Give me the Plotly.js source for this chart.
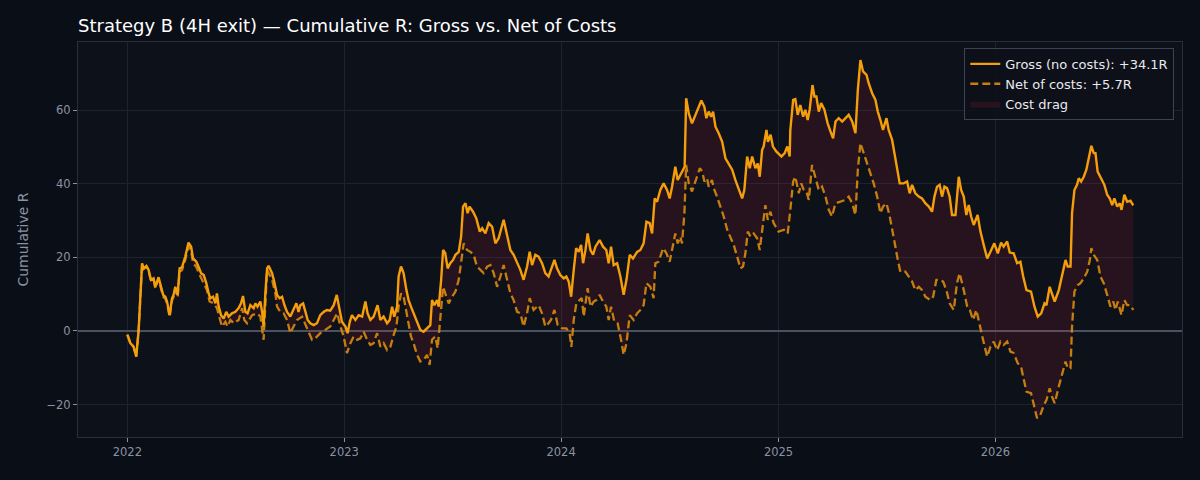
<!DOCTYPE html>
<html>
<head>
<meta charset="utf-8">
<script src="https://cdn.plot.ly/plotly-3.0.1.min.js"></script>
<style>
  html, body { margin: 0; padding: 0; background: #0a0e17; }
  #chart { width: 1200px; height: 480px; }
</style>
</head>
<body>
<div id="chart"></div>
<script>
'use strict'

// time in years since 2022-01-01, values in R
const grossT = [0.000,0.014,0.029,0.041,0.052,0.068,0.075,0.088,0.098,0.109,0.121,0.129,0.144,0.152,0.165,0.175,0.183,0.195,0.206,0.213,
  0.221,0.232,0.241,0.252,0.267,0.282,0.294,0.303,0.318,0.329,0.340,0.352,0.364,0.375,0.382,0.395,0.406,0.413,0.421,0.432,
  0.444,0.456,0.467,0.482,0.498,0.513,0.524,0.533,0.544,0.554,0.567,0.582,0.590,0.600,0.613,0.621,0.628,0.636,0.644,0.651,
  0.667,0.677,0.690,0.702,0.713,0.724,0.736,0.751,0.766,0.779,0.789,0.797,0.810,0.820,0.831,0.843,0.859,0.874,0.889,0.905,
  0.920,0.935,0.951,0.965,0.978,0.989,1.005,1.015,1.025,1.035,1.051,1.066,1.082,1.097,1.107,1.120,1.135,1.153,1.166,1.181,
  1.197,1.209,1.220,1.230,1.243,1.250,1.261,1.273,1.286,1.296,1.307,1.319,1.335,1.350,1.365,1.381,1.396,1.404,1.415,1.427,
  1.435,1.446,1.455,1.465,1.476,1.488,1.501,1.512,1.527,1.538,1.547,1.558,1.568,1.577,1.593,1.608,1.624,1.635,1.650,1.665,
  1.681,1.696,1.711,1.734,1.750,1.765,1.780,1.796,1.811,1.826,1.842,1.854,1.865,1.880,1.895,1.911,1.926,1.941,1.949,1.968,
  1.980,1.995,2.011,2.023,2.034,2.045,2.057,2.068,2.080,2.091,2.100,2.111,2.121,2.134,2.146,2.157,2.176,2.192,2.207,2.218,
  2.229,2.241,2.257,2.272,2.287,2.300,2.315,2.330,2.349,2.364,2.379,2.392,2.407,2.418,2.430,2.441,2.456,2.471,2.487,2.499,
  2.510,2.525,2.536,2.548,2.561,2.568,2.575,2.587,2.602,2.618,2.633,2.645,2.659,2.668,2.679,2.690,2.699,2.710,2.725,2.741,
  2.756,2.771,2.787,2.802,2.817,2.833,2.843,2.856,2.868,2.879,2.894,2.905,2.914,2.925,2.932,2.945,2.952,2.964,2.975,2.991,
  3.014,3.029,3.041,3.052,3.055,3.068,3.078,3.089,3.101,3.114,3.124,3.135,3.144,3.157,3.166,3.175,3.186,3.197,3.212,3.227,
  3.240,3.252,3.263,3.278,3.294,3.309,3.324,3.340,3.355,3.366,3.378,3.390,3.406,3.416,3.432,3.447,3.458,3.470,3.482,3.498,
  3.508,3.524,3.535,3.547,3.559,3.577,3.593,3.605,3.616,3.631,3.647,3.662,3.677,3.693,3.708,3.719,3.731,3.743,3.754,3.765,
  3.777,3.789,3.800,3.816,3.831,3.842,3.854,3.866,3.877,3.888,3.900,3.918,3.931,3.946,3.962,3.977,3.995,4.011,4.026,4.038,
  4.054,4.066,4.084,4.100,4.115,4.128,4.143,4.164,4.180,4.195,4.211,4.226,4.235,4.250,4.261,4.273,4.292,4.307,4.323,4.333,
  4.346,4.353,4.364,4.376,4.384,4.395,4.407,4.419,4.430,4.442,4.453,4.461,4.471,4.487,4.502,4.515,4.527,4.538,4.548,4.561,
  4.573,4.581,4.594,4.607,4.622,4.635];
const grossR = [-1.0,-3.3,-4.3,-7.0,0.0,18.4,17.0,17.7,16.6,13.9,14.3,12.0,14.6,13.0,9.8,9.3,8.0,4.3,8.9,9.8,
  12.0,9.8,17.0,17.3,20.2,24.0,22.9,19.7,18.8,17.3,15.7,15.2,13.0,10.2,8.9,9.3,7.5,10.2,6.6,4.3,
  3.4,5.2,3.9,4.8,5.2,6.2,7.5,9.5,5.2,4.8,7.0,6.2,7.5,6.6,8.0,5.2,1.2,10.2,17.0,17.7,
  15.7,13.4,9.8,8.9,9.3,7.0,5.2,3.9,5.7,7.5,5.2,7.0,7.5,5.2,3.0,2.1,1.6,2.1,4.3,5.2,
  5.7,5.5,7.0,9.8,5.7,2.5,1.2,-0.6,2.5,4.3,3.0,4.3,3.9,8.0,4.8,3.0,3.9,7.0,3.0,3.9,
  2.1,3.0,6.6,3.9,6.6,14.8,17.5,15.7,11.1,8.4,6.6,4.8,2.1,0.3,-0.2,0.7,1.6,8.4,7.0,8.4,
  6.6,13.9,22.0,21.1,17.0,18.4,19.3,20.7,21.5,25.6,33.8,34.7,32.0,33.8,32.4,30.6,27.0,27.9,26.5,29.3,
  28.3,23.8,25.2,30.2,25.6,22.0,20.7,18.8,16.6,13.9,17.5,21.5,17.9,20.7,20.2,18.4,15.7,14.8,16.1,19.3,
  17.0,15.2,14.3,14.8,13.4,9.3,16.6,22.5,21.5,23.4,18.4,22.0,26.5,22.0,20.7,22.9,24.7,22.9,22.0,18.4,
  22.9,17.9,18.4,14.8,9.8,13.9,20.7,19.7,21.5,22.0,23.8,29.7,29.3,26.5,36.0,35.1,38.3,40.1,38.3,36.0,
  39.2,44.6,41.0,42.4,43.8,44.6,63.2,59.1,56.4,58.7,60.9,62.6,60.9,57.8,59.6,58.2,59.6,55.5,53.7,51.4,
  46.9,45.5,43.8,41.0,38.3,36.0,38.3,47.4,44.2,47.4,44.2,45.5,41.9,49.2,50.1,54.6,51.4,53.3,50.1,48.7,
  47.4,48.3,50.1,47.4,54.6,62.8,63.0,58.7,61.4,58.2,60.1,57.3,60.1,66.8,63.7,63.7,59.6,61.9,60.1,56.4,
  54.2,52.3,56.9,57.8,56.9,57.8,58.7,56.9,53.7,65.5,73.6,70.5,69.6,67.3,64.6,62.8,59.6,57.3,54.6,57.8,
  54.6,51.9,48.3,43.8,40.1,40.1,40.6,37.4,39.7,37.4,36.5,36.0,34.7,33.8,32.4,36.5,39.2,39.7,36.5,39.2,
  38.8,36.5,31.5,31.5,41.9,38.3,36.5,31.5,34.2,31.1,28.8,31.5,27.0,23.4,19.7,21.5,23.8,21.1,24.0,22.9,
  24.3,21.3,21.1,18.4,18.8,14.8,11.1,10.7,6.6,3.9,4.8,7.5,7.0,12.0,10.2,8.0,11.1,14.8,19.3,17.5,
  17.5,32.0,38.3,39.7,41.5,40.6,41.9,43.8,46.5,50.3,48.3,48.3,43.3,41.5,39.7,37.0,36.0,34.2,36.0,33.8,
  34.7,32.9,37.0,35.1,35.4,34.1];

const netT = [0.000,0.014,0.029,0.041,0.052,0.068,0.075,0.088,0.098,0.109,0.121,0.129,0.144,0.152,0.165,0.175,0.183,0.195,0.206,0.213,
  0.221,0.232,0.241,0.252,0.267,0.282,0.294,0.303,0.318,0.329,0.344,0.367,0.379,0.398,0.413,0.429,0.436,0.452,0.462,0.475,
  0.490,0.513,0.529,0.539,0.552,0.575,0.598,0.613,0.628,0.644,0.667,0.682,0.690,0.705,0.720,0.736,0.751,0.766,0.782,0.805,
  0.828,0.851,0.866,0.889,0.912,0.935,0.951,0.967,0.982,0.997,1.012,1.028,1.043,1.059,1.074,1.089,1.105,1.120,1.135,1.151,
  1.166,1.181,1.197,1.212,1.227,1.240,1.250,1.261,1.273,1.286,1.296,1.307,1.319,1.335,1.350,1.365,1.381,1.393,1.404,1.419,
  1.430,1.442,1.455,1.465,1.481,1.496,1.512,1.527,1.538,1.550,1.565,1.581,1.596,1.611,1.627,1.642,1.658,1.673,1.688,1.704,
  1.719,1.734,1.750,1.765,1.780,1.796,1.811,1.826,1.842,1.854,1.872,1.895,1.911,1.926,1.941,1.952,1.968,1.983,2.003,2.023,
  2.038,2.046,2.057,2.069,2.084,2.094,2.103,2.112,2.121,2.134,2.149,2.161,2.176,2.192,2.207,2.218,2.229,2.244,2.259,2.275,
  2.287,2.300,2.315,2.333,2.349,2.364,2.379,2.392,2.410,2.425,2.433,2.448,2.469,2.484,2.499,2.510,2.525,2.536,2.548,2.556,
  2.567,2.575,2.587,2.602,2.618,2.638,2.649,2.659,2.671,2.679,2.694,2.702,2.717,2.733,2.748,2.764,2.779,2.794,2.810,2.825,
  2.837,2.848,2.859,2.871,2.886,2.902,2.914,2.925,2.940,2.951,2.963,2.978,3.001,3.025,3.043,3.055,3.068,3.078,3.094,3.105,
  3.117,3.129,3.140,3.155,3.171,3.186,3.201,3.217,3.232,3.247,3.263,3.286,3.309,3.324,3.340,3.355,3.366,3.378,3.393,3.409,
  3.424,3.439,3.455,3.470,3.482,3.498,3.513,3.529,3.539,3.550,3.562,3.585,3.601,3.616,3.631,3.647,3.662,3.677,3.700,3.713,
  3.728,3.743,3.759,3.774,3.789,3.808,3.823,3.835,3.854,3.870,3.882,3.897,3.912,3.928,3.943,3.962,3.977,3.992,4.008,4.023,
  4.038,4.054,4.069,4.084,4.103,4.118,4.131,4.143,4.164,4.180,4.192,4.207,4.223,4.235,4.250,4.261,4.273,4.292,4.307,4.323,
  4.333,4.346,4.353,4.364,4.380,4.392,4.407,4.423,4.435,4.442,4.453,4.469,4.484,4.499,4.515,4.530,4.543,4.553,4.564,4.581,
  4.594,4.607,4.622,4.635];
const netR = [-1.0,-3.3,-4.3,-7.0,0.0,18.2,16.8,17.4,16.3,13.6,13.9,11.6,14.1,12.5,9.3,8.8,7.5,3.8,8.3,9.2,
  11.3,9.1,16.2,16.5,19.3,23.0,21.6,18.4,17.4,15.8,13.9,11.1,8.0,7.5,6.2,2.1,1.2,2.5,1.2,3.0,
  2.1,3.0,6.2,3.0,2.1,4.3,4.8,3.9,-2.4,16.6,13.9,10.2,6.6,5.2,4.8,3.0,-0.6,1.2,3.0,3.9,
  0.7,-2.4,-2.0,-0.6,0.3,1.2,3.0,4.8,1.2,-1.5,-6.0,-3.3,-1.5,-2.4,-2.0,-0.2,-2.4,-3.8,-3.3,-0.6,
  -4.3,-3.3,-5.2,-4.3,-1.1,1.2,6.6,10.2,9.3,4.8,2.1,-1.5,-3.3,-6.5,-8.3,-7.9,-6.5,-9.2,-2.4,-1.5,
  -4.7,3.0,12.0,10.2,7.5,9.3,10.7,13.9,18.4,23.8,22.0,21.5,20.7,17.5,16.6,15.7,17.5,17.9,15.7,12.0,
  14.8,17.9,13.9,10.2,8.4,5.2,4.8,1.2,4.8,8.9,5.7,7.0,4.8,1.2,2.1,3.0,5.7,1.6,0.7,0.7,
  -0.6,-4.3,3.0,7.5,8.4,8.9,3.9,8.4,11.6,6.6,8.0,8.4,9.8,8.0,6.6,3.0,6.6,2.5,2.1,-2.4,
  -6.5,-3.3,4.3,3.0,4.8,5.7,7.0,13.0,12.0,8.9,18.4,18.8,22.5,21.1,18.8,22.0,26.5,23.8,25.6,23.8,
  32.0,45.1,40.1,37.9,40.6,44.2,43.3,40.6,41.5,39.2,41.0,38.8,36.5,33.8,31.1,27.5,25.6,23.4,20.2,17.0,
  17.5,21.1,27.0,25.6,26.5,25.2,22.0,27.5,34.2,30.2,32.4,29.3,27.0,27.5,26.5,32.9,40.6,41.9,37.4,40.1,
  38.3,37.9,35.6,45.1,41.5,38.3,39.2,36.5,32.9,31.1,34.7,35.1,35.6,36.5,34.7,31.5,43.8,51.0,48.3,45.5,
  42.8,40.1,36.5,32.0,33.8,34.7,31.1,26.5,22.9,19.3,16.1,16.1,14.8,13.4,11.1,12.0,11.1,9.3,8.4,9.3,
  13.9,13.9,13.4,11.1,7.5,5.7,13.0,15.7,11.1,6.6,5.7,3.0,5.7,1.2,-2.4,-7.0,-4.3,-2.9,-5.2,-2.9,
  -3.8,-2.9,-5.6,-6.0,-8.8,-9.7,-13.3,-16.5,-16.9,-20.6,-23.7,-22.8,-20.1,-18.8,-15.6,-17.9,-19.6,-15.1,-11.5,-8.3,
  -10.1,-10.1,1.2,10.7,12.5,13.0,14.3,16.1,19.3,22.5,20.7,19.3,14.8,13.0,9.8,6.6,8.0,5.7,8.0,4.3,
  8.4,7.0,7.0,5.7];

const yearTicks = ['2022-01-01', '2023-01-01', '2024-01-01', '2025-01-01', '2026-01-01'];
const yearLabels = ['2022', '2023', '2024', '2025', '2026'];

const grossLabel = 'Gross (no costs): +34.1R',
    netLabel = 'Net of costs: +5.7R',
    dragLabel = 'Cost drag';

// years since 2022-01-01 -> date string plotly understands
function toDate(t) {
    const ms = Date.UTC(2022, 0, 1) + t * 365.25 * 86400000;
    return new Date(ms).toISOString().slice(0, 16).replace('T', ' ');
}

const grossX = grossT.map(toDate),
    netX = netT.map(toDate);

const amber = '#f59e0b';

let netTrace = {
    x: netX, y: netR,
    type: 'scatter', mode: 'lines',
    name: netLabel,
    line: {color: 'rgba(214,136,14,0.92)', width: 2.3, dash: '8px,4px'},
    legendrank: 2,
    hoverinfo: 'skip'
};

let dragTrace = {
    x: grossX, y: grossR,
    type: 'scatter', mode: 'lines',
    name: dragLabel,
    line: {width: 0, color: 'rgba(0,0,0,0)'},
    fill: 'tonexty',
    fillcolor: 'rgba(220,45,60,0.12)',
    legendrank: 3,
    hoverinfo: 'skip'
};

let grossTrace = {
    x: grossX, y: grossR,
    type: 'scatter', mode: 'lines',
    name: grossLabel,
    line: {color: amber, width: 2.4},
    legendrank: 1
};

const tickFont = {family: 'DejaVu Sans', size: 11.5, color: '#8b93a3'};

let layout = {
    width: 1200, height: 480,
    paper_bgcolor: '#0a0e17',
    plot_bgcolor: '#0d111a',
    margin: {l: 78, r: 18, t: 42, b: 43},
    title: {
        text: 'Strategy B (4H exit) — Cumulative R: Gross vs. Net of Costs',
        font: {family: 'DejaVu Sans', size: 18, color: '#ffffff'},
        x: 0, xref: 'paper', xanchor: 'left',
        y: 1, yref: 'container', yanchor: 'top', pad: {t: 19}
    },
    xaxis: {
        type: 'date',
        range: ['2021-10-10', '2026-11-11'],
        tickvals: yearTicks, ticktext: yearLabels,
        tickfont: tickFont,
        ticks: 'outside', ticklen: 4, tickcolor: '#8b93a3',
        showgrid: true, gridcolor: '#1c2230', gridwidth: 1,
        showline: true, mirror: true, linecolor: '#272e3c', linewidth: 1,
        zeroline: false
    },
    yaxis: {
        range: [-28.8, 78.5],
        tickvals: [-20, 0, 20, 40, 60],
        tickfont: tickFont,
        ticks: 'outside', ticklen: 4, tickcolor: '#8b93a3',
        showgrid: true, gridcolor: '#1c2230', gridwidth: 1,
        showline: true, mirror: true, linecolor: '#272e3c', linewidth: 1,
        zeroline: true, zerolinecolor: '#4a5262', zerolinewidth: 1.4,
        title: {text: 'Cumulative R', font: {family: 'DejaVu Sans', size: 14, color: '#8b93a3'}, standoff: 14}
    },
    legend: {
        x: 0.993, y: 0.985, xanchor: 'right', yanchor: 'top',
        traceorder: 'normal',
        bgcolor: 'rgba(13,17,26,0.9)',
        bordercolor: '#3c4352', borderwidth: 1,
        font: {family: 'DejaVu Sans', size: 13, color: '#e8eaee'},
        tracegroupgap: 2
    },
    showlegend: true,
    hovermode: false
};

Plotly.newPlot('chart', [netTrace, dragTrace, grossTrace], layout, {displayModeBar: false, staticPlot: true});
</script>
</body>
</html>
